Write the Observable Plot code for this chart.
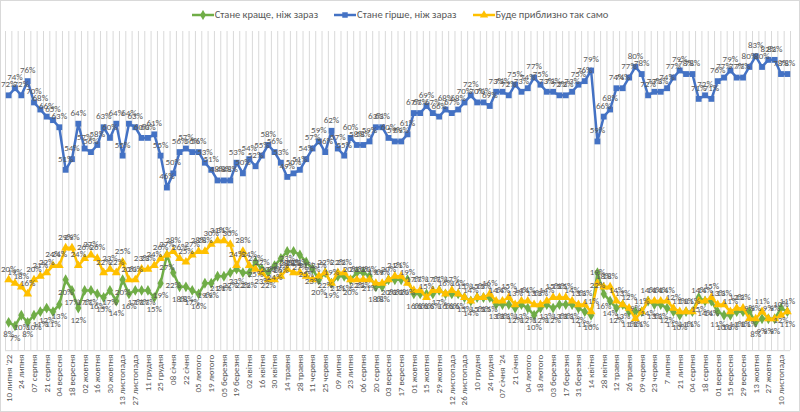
<!DOCTYPE html>
<html><head><meta charset="utf-8">
<script src="https://cdn.jsdelivr.net/npm/d3@7"></script>
<script src="https://cdn.jsdelivr.net/npm/@observablehq/plot@0.6"></script>
<style>
html,body{margin:0;padding:0;background:#fff;}
#wrap{width:800px;height:412px;position:relative;overflow:hidden;box-sizing:border-box;border:1px solid #d9d9d9;font-family:Calibri,Carlito,"Liberation Sans",Arial,sans-serif;}
#legend{height:27px;display:flex;justify-content:center;align-items:center;gap:16px;font-size:10.5px;color:#595959;}
.item{display:flex;align-items:center;gap:1px;}
#chart svg{overflow:visible;display:block;}
</style></head><body><div id="wrap"><div id="legend"></div><div id="chart"></div></div>
<script>
const tickLabels = ["10 липня '22","24 липня","07 серпня","21 серпня","04 вересня","18 вересня","02 жовтня","16 жовтня","30 жовтня","13 листопада","27 листопада","11 грудня","25 грудня","08 січня","22 січня","05 лютого","19 лютого","05 березня","19 березня","02 квітня","16 квітня","30 квітня","14 травня","28 травня","11 червня","25 червня","09 липня","23 липня","06 серпня","20 серпня","03 вересня","17 вересня","01 жовтня","15 жовтня","29 жовтня","12 листопада","26 листопада","10 грудня","24 грудня","07 січня '24","21 січня","04 лютого","18 лютого","03 березня","17 березня","31 березня","14 квітня","28 квітня","12 травня","26 травня","09 червня","23 червня","7 липня","21 липня","04 серпня","18 серпня","01 вересня","15 вересня","29 вересня","13 жовтня","27 жовтня","10 листопада"];

const seriesNames = ["Стане краще, ніж зараз","Стане гірше, ніж зараз","Буде приблизно так само"];

const better = [8,7,10,8,10,11,12,11,13,20,
 17,12,17,17,16,15,17,14,20,16,
 17,17,17,15,19,27,22,18,18,17,
 16,19,19,21,21,22,23,22,22,25,
 23,22,24,26,28,28,27,25,23,20,
 22,19,21,21,20,22,22,21,18,18,
 20,20,20,20,16,16,16,16,17,16,
 16,16,15,14,15,15,15,13,13,13,
 12,13,12,10,12,13,12,13,13,13,
 12,11,10,22,16,14,12,13,11,11,
 11,14,13,13,12,11,10,11,11,15,
 14,14,11,10,10,11,11,11,8,9,
 9,9,12,11];

const worse = [72,74,72,76,70,68,66,65,63,51,
 54,64,57,56,58,63,60,64,55,64,
 63,60,60,61,55,46,50,56,57,56,
 56,53,51,48,48,48,53,50,54,52,
 55,58,56,53,49,50,51,54,57,59,
 56,62,57,55,60,58,58,59,63,63,
 60,59,59,61,67,67,69,67,66,68,
 67,68,70,72,70,70,69,73,73,72,
 75,73,74,77,75,73,73,72,72,73,
 75,76,79,59,66,68,74,74,77,80,
 78,72,73,73,74,77,79,78,78,71,
 72,71,76,77,79,77,77,80,83,80,
 82,82,78,78];

const same = [20,19,18,16,20,21,22,24,24,29,
 29,24,26,27,26,22,23,22,25,20,
 20,23,23,24,26,27,28,26,25,27,
 28,28,30,31,31,30,24,28,24,23,
 22,20,20,21,23,22,22,21,20,21,
 22,19,22,22,20,20,20,20,19,19,
 20,21,21,19,17,17,15,17,17,16,
 17,16,15,14,15,15,16,14,14,15,
 13,14,14,13,13,14,15,15,15,14,
 13,13,11,19,18,18,14,13,12,9,
 11,14,14,14,14,12,11,11,11,14,
 14,15,13,13,11,12,12,9,9,11,
 9,9,10,11];

const series = [
  {name: seriesNames[0], values: better, color: "#70AD47", symbol: "diamond", dy: 12},
  {name: seriesNames[1], values: worse,  color: "#4472C4", symbol: "square",  dy: -11},
  {name: seriesNames[2], values: same,   color: "#FFC000", symbol: "triangle", dy: -11}
];

const n = worse.length;
const rows = series.map(s => s.values.map((v, i) => ({i, v, s: s.name})));

// legend
const legend = document.getElementById("legend");
series.forEach(s => {
  const it = document.createElement("div");
  it.className = "item";
  const sym = d3.symbol(s.symbol === "diamond" ? d3.symbolDiamond : s.symbol === "square" ? d3.symbolSquare : d3.symbolTriangle, 30)();
  it.innerHTML = `<svg width="22" height="10"><line x1="0" x2="22" y1="5" y2="5" stroke="${s.color}" stroke-width="2.5"/><path d="${sym}" transform="translate(11,5)" fill="${s.color}"/></svg><span>${s.name}</span>`;
  legend.appendChild(it);
});

const chart = Plot.plot({
  width: 800,
  height: 383,
  marginTop: 3,
  marginBottom: 60,
  marginLeft: 4,
  marginRight: 9,
  x: {domain: [-0.5, n - 0.5], axis: null, label: null},
  y: {domain: [0, 90], axis: null, label: null},
  style: {fontFamily: 'Calibri, Carlito, "Liberation Sans", Arial, sans-serif', fontSize: "9px", color: "#595959", background: "transparent", overflow: "visible"},
  marks: [
    Plot.ruleX(d3.range(n + 1).map(k => k - 0.5), {stroke: "#d9d9d9", strokeWidth: 1}),
    Plot.ruleY([0], {stroke: "#d9d9d9"}),
    ...series.flatMap((s, k) => [
      Plot.line(rows[k], {x: "i", y: "v", stroke: s.color, strokeWidth: 2.5}),
      Plot.dot(rows[k], {x: "i", y: "v", fill: s.color, stroke: "none", symbol: s.symbol, r: 3.3})
    ]),
    ...series.map((s, k) => Plot.text(rows[k], {x: "i", y: "v", text: d => d.v + "%", dy: s.dy, fill: "#595959", fontSize: 9})),
    Plot.axisX({ticks: d3.range(0, n - 1, 2), tickFormat: i => tickLabels[i / 2], tickRotate: -90, tickSize: 0, tickPadding: 4, fontSize: 9, label: null})
  ]
});
document.getElementById("chart").appendChild(chart);
</script>
</body></html>
